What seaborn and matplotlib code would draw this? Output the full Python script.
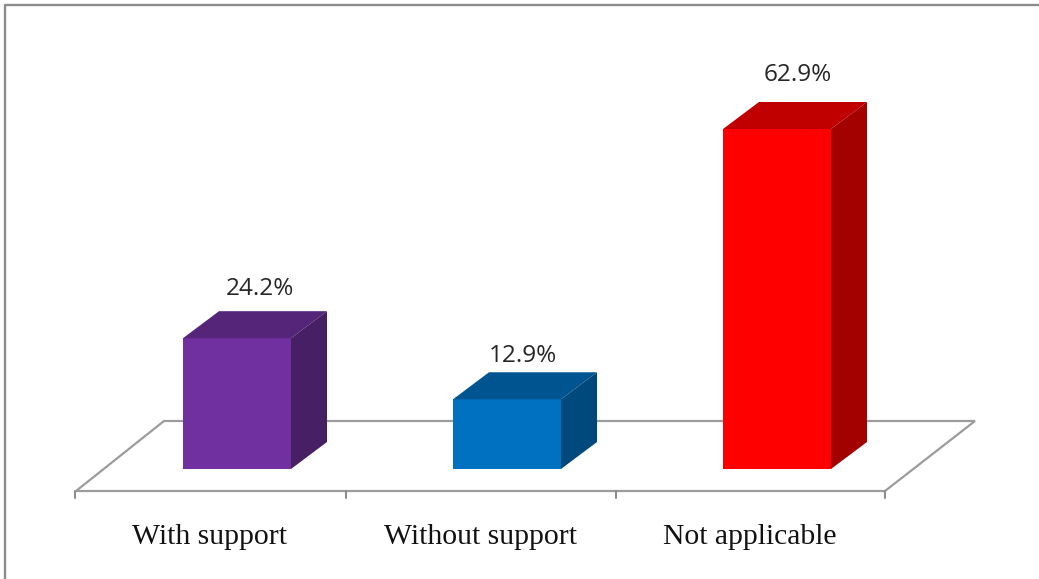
import matplotlib
matplotlib.use("Agg")
import matplotlib.pyplot as plt
import seaborn as sns
from matplotlib.patches import Polygon
from matplotlib.transforms import Affine2D

categories = ["With support", "Without support", "Not applicable"]
values = [24.2, 12.9, 62.9]
value_labels = ["24.2%", "12.9%", "62.9%"]
front_colors = ["#7030A0", "#0070C0", "#FF0000"]
top_colors = ["#552579", "#005591", "#C00000"]
side_colors = ["#461F64", "#00497D", "#A30000"]

W, H = 1039, 579
sns.set_theme(style="white")
fig = plt.figure(figsize=(W / 100, H / 100), dpi=100, facecolor="white")

# Axes area in pixels: categories 270 px apart, y=0 at pixel row 469
left, right = 102, 912
bottom_px, top_px = 469, 129
ax = fig.add_axes([left / W, 1 - bottom_px / H, (right - left) / W, (bottom_px - top_px) / H])
ax.patch.set_alpha(0)
sns.despine(ax=ax, left=True, bottom=True)

sns.barplot(x=categories, y=values, hue=categories, palette=front_colors,
            width=0.4, legend=False, saturation=1, ax=ax, zorder=3,
            edgecolor="none", linewidth=0)
ax.set_xlim(-0.5, 2.5)
ax.set_ylim(0, 62.9)
ax.set_xticks([])
ax.set_yticks([])
ax.set_xlabel("")
ax.set_ylabel("")

# Pixel overlay (y downward) for the floor, frame and tick marks
px = Affine2D().scale(1, -1).translate(0, H)
def pline(xs, ys, **kw):
    fig.add_artist(plt.Line2D(xs, ys, transform=px, **kw))

pline([5, 5, W + 2], [H + 2, 5, 5], color="#8c8c8c", linewidth=1.7)
floor = Polygon([(76, 491), (164, 421), (975, 421), (885, 491)], closed=True, fill=False,
                edgecolor="#9c9c9c", linewidth=1.6, transform=px, zorder=1)
fig.add_artist(floor)
ax.set_zorder(2)
for x in [75, 346, 616, 885]:
    pline([x, x], [491, 498], color="#8c8c8c", linewidth=1.5)

# 3-D faces of every bar, derived from the bar patches
dx, dy = 36, 27
label_dx = [23, 16, 21]
label_dy = [22, 16, 27]
for bar, top_c, side_c, lab, cat, ldx, ldy in zip(ax.patches, top_colors, side_colors,
                                                 value_labels, categories, label_dx, label_dy):
    x0, y0 = bar.get_x(), bar.get_y()
    w, h = bar.get_width(), bar.get_height()
    (xa, ya) = ax.transData.transform((x0, y0 + h))
    (xb, yb) = ax.transData.transform((x0 + w, y0))
    ya, yb = H - ya, H - yb
    fig.add_artist(Polygon([(xa, ya), (xb, ya), (xb + dx, ya - dy), (xa + dx, ya - dy)],
                           closed=True, facecolor=top_c, edgecolor="none", transform=px, zorder=4))
    fig.add_artist(Polygon([(xb, ya), (xb + dx, ya - dy), (xb + dx, yb - dy), (xb, yb)],
                           closed=True, facecolor=side_c, edgecolor="none", transform=px, zorder=4))
    cx = (xa + xb) / 2
    fig.text((cx + ldx) / W, 1 - (ya - dy - ldy) / H, lab, ha="center", va="center",
             fontsize=17.5, color="#262626", family="Open Sans", zorder=5)
    fig.text((cx - 27) / W, 1 - 537 / H, cat, ha="center", va="center",
             fontsize=21.3, color="#111111", family="Liberation Serif", zorder=5)

fig.savefig("out.png", dpi=100)
